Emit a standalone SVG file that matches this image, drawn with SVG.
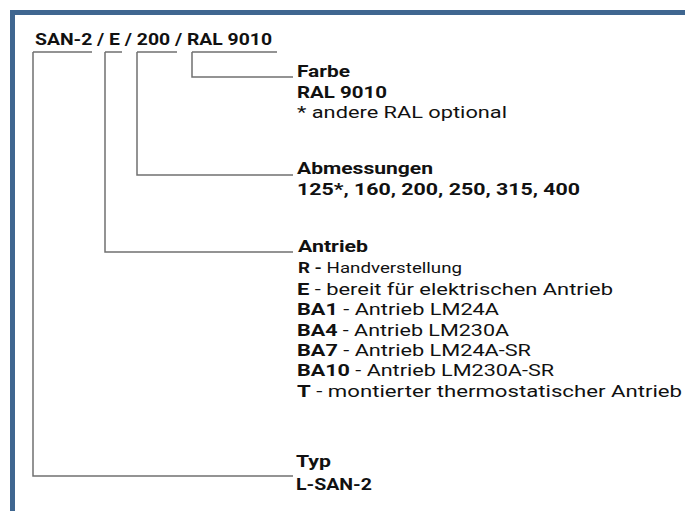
<svg xmlns="http://www.w3.org/2000/svg" width="685" height="511" viewBox="0 0 685 511">
<style>
.t{font-family:Roboto,"Open Sans","Liberation Sans",sans-serif;fill:#111}
.h{font-size:17px;font-weight:bold}
.r{font-size:17px}
.s{font-size:15px}
.b{font-weight:bold}
.c{fill:none;stroke:#707070;stroke-width:1.5}
</style>
<rect x="0" y="0" width="685" height="511" fill="#fff"/>
<g id="frame">
<rect x="10" y="10" width="675" height="5" fill="#3f6690"/>
<rect x="10" y="10" width="5" height="501" fill="#3f6690"/>
</g>
<g id="connectors">
<path class="c" d="M33,52H92M33,52V476H293"/>
<path class="c" d="M105,52H122M105,52V252H293"/>
<path class="c" d="M137,52H177M137,52V175H293"/>
<path class="c" d="M192,52H277M192,52V77H293"/>
</g>
<g id="title">
<text class="t h" x="35" y="45" font-size="16" textLength="237" lengthAdjust="spacingAndGlyphs">SAN-2 / E / 200 / RAL 9010</text>
</g>
<g id="farbe">
<text class="t h" x="297" y="77" textLength="53" lengthAdjust="spacingAndGlyphs">Farbe</text>
<text class="t h" x="297" y="98" textLength="90" lengthAdjust="spacingAndGlyphs">RAL 9010</text>
<text class="t r" x="297" y="118" textLength="210" lengthAdjust="spacingAndGlyphs">* andere RAL optional</text>
</g>
<g id="abmessungen">
<text class="t h" x="297" y="174" textLength="136" lengthAdjust="spacingAndGlyphs">Abmessungen</text>
<text class="t h" x="297" y="195" textLength="283" lengthAdjust="spacingAndGlyphs">125*, 160, 200, 250, 315, 400</text>
</g>
<g id="antrieb">
<text class="t h" x="298" y="252" textLength="70" lengthAdjust="spacingAndGlyphs">Antrieb</text>
<text class="t s" x="298" y="273" textLength="164" lengthAdjust="spacingAndGlyphs"><tspan class="b">R -</tspan> Handverstellung</text>
<text class="t r" x="297" y="295" textLength="316" lengthAdjust="spacingAndGlyphs"><tspan class="b">E</tspan> - bereit für elektrischen Antrieb</text>
<text class="t r" x="297" y="315" textLength="202" lengthAdjust="spacingAndGlyphs"><tspan class="b">BA1</tspan> - Antrieb LM24A</text>
<text class="t r" x="297" y="336" textLength="212" lengthAdjust="spacingAndGlyphs"><tspan class="b">BA4</tspan> - Antrieb LM230A</text>
<text class="t r" x="297" y="356" textLength="234" lengthAdjust="spacingAndGlyphs"><tspan class="b">BA7</tspan> - Antrieb LM24A-SR</text>
<text class="t r" x="297" y="376" textLength="257" lengthAdjust="spacingAndGlyphs"><tspan class="b">BA10</tspan> - Antrieb LM230A-SR</text>
<text class="t r" x="297" y="397" textLength="385" lengthAdjust="spacingAndGlyphs"><tspan class="b">T</tspan> - montierter thermostatischer Antrieb</text>
</g>
<g id="typ">
<text class="t h" x="296" y="467" textLength="35" lengthAdjust="spacingAndGlyphs">Typ</text>
<text class="t h" x="296" y="490" textLength="76" lengthAdjust="spacingAndGlyphs">L-SAN-2</text>
</g>
</svg>
